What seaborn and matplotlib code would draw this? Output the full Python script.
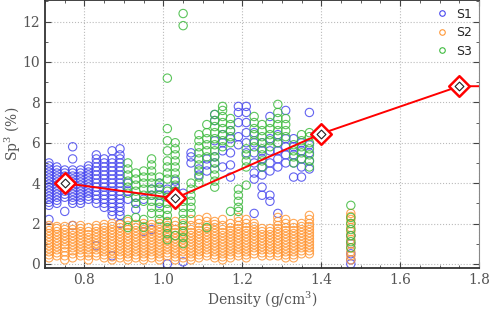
import matplotlib
matplotlib.use('Agg')
import matplotlib.pyplot as plt
import seaborn as sns
import pandas as pd
from matplotlib.lines import Line2D
from matplotlib.ticker import MultipleLocator

# column positions (density) and Sp3 values
s1_x = [0.71, 0.73, 0.75, 0.77, 0.79, 0.81, 0.83, 0.85, 0.87, 0.89,
        0.91, 0.93, 0.95, 0.97, 0.99, 1.01, 1.03, 1.05, 1.07, 1.09,
        1.11, 1.13, 1.15, 1.17, 1.19, 1.21, 1.23, 1.25, 1.27, 1.29,
        1.31, 1.33, 1.35, 1.37, 1.475]
s1_y = [
    [2.2, 2.9, 3.05, 3.2, 3.35, 3.5, 3.65, 3.8, 3.95, 4.1, 4.25, 4.4, 4.55, 4.7, 4.85, 5.0],
    [3.0, 3.15, 3.3, 3.45, 3.6, 3.75, 3.9, 4.05, 4.2, 4.35, 4.5, 4.65, 4.8],
    [2.6, 3.3, 3.45, 3.6, 3.75, 3.9, 4.05, 4.2, 4.35, 4.5, 4.65],
    [1.9, 3.0, 3.15, 3.3, 3.45, 3.6, 3.75, 3.9, 4.05, 4.2, 4.35, 4.5, 4.65, 5.2, 5.8],
    [3.0, 3.15, 3.3, 3.45, 3.6, 3.75, 3.9, 4.05, 4.2, 4.35, 4.5, 4.65],
    [3.2, 3.35, 3.5, 3.65, 3.8, 3.95, 4.1, 4.25, 4.4, 4.55, 4.7, 4.85],
    [0.9, 3.0, 3.2, 3.4, 3.6, 3.8, 4.0, 4.2, 4.4, 4.6, 4.8, 5.0, 5.2, 5.4],
    [2.8, 3.0, 3.2, 3.4, 3.6, 3.8, 4.0, 4.2, 4.4, 4.6, 4.8, 5.0, 5.2],
    [0.4, 2.4, 2.6, 2.8, 3.0, 3.2, 3.4, 3.6, 3.8, 4.0, 4.2, 4.4, 4.6, 4.8, 5.0, 5.2, 5.6],
    [2.0, 2.4, 2.6, 2.8, 3.0, 3.2, 3.4, 3.6, 3.8, 4.0, 4.2, 4.4, 4.6, 4.8, 5.0, 5.2, 5.4, 5.7],
    [3.2, 3.6, 4.0],
    [2.7, 3.0, 3.3],
    [1.6, 3.2],
    [1.7, 3.4, 3.7],
    [3.0, 3.4, 3.8, 4.0],
    [0.0, 3.4, 3.7],
    [3.6, 3.8, 4.1],
    [0.1, 3.5],
    [5.0, 5.3, 5.5],
    [4.4, 4.7],
    [4.6, 4.9, 5.2],
    [5.0, 5.3, 6.1, 7.1, 7.4],
    [4.8, 5.6, 6.0, 6.4],
    [4.3, 4.9, 5.5, 6.2, 6.6],
    [5.9, 6.3, 7.0, 7.5, 7.8],
    [5.5, 6.0, 6.5, 7.0, 7.5, 7.8],
    [2.5, 4.2, 4.5, 5.0, 5.5, 6.0, 6.5],
    [3.4, 3.8, 4.4, 4.8, 5.2, 5.6, 6.0],
    [3.1, 3.4, 4.6, 5.0, 5.6, 6.2, 7.3],
    [2.5, 4.8, 5.2, 5.6, 6.0, 6.4],
    [5.0, 5.4, 5.8, 6.2, 7.6],
    [4.3, 5.0, 5.4, 5.8, 6.2],
    [4.3, 4.8, 5.2, 5.6, 6.0],
    [4.7, 5.1, 5.5, 5.9, 7.5],
    [0.0, 0.2, 0.5, 1.0, 1.4],
]

s2_x = [0.71, 0.73, 0.75, 0.77, 0.79, 0.81, 0.83, 0.85, 0.87, 0.89,
        0.91, 0.93, 0.95, 0.97, 0.99, 1.01, 1.03, 1.05, 1.07, 1.09,
        1.11, 1.13, 1.15, 1.17, 1.19, 1.21, 1.23, 1.25, 1.27, 1.29,
        1.31, 1.33, 1.35, 1.37, 1.475]
s2_y = [
    [0.3, 0.45, 0.6, 0.75, 0.9, 1.05, 1.2, 1.35, 1.5, 1.65, 1.8, 1.9],
    [0.4, 0.55, 0.7, 0.85, 1.0, 1.15, 1.3, 1.45, 1.6, 1.75, 1.85],
    [0.2, 0.4, 0.6, 0.8, 0.95, 1.1, 1.25, 1.4, 1.55, 1.7, 1.85],
    [0.3, 0.5, 0.65, 0.8, 0.95, 1.1, 1.25, 1.4, 1.55, 1.7, 1.9],
    [0.4, 0.55, 0.7, 0.85, 1.0, 1.15, 1.3, 1.45, 1.6, 1.75, 1.9],
    [0.2, 0.4, 0.55, 0.7, 0.85, 1.0, 1.15, 1.3, 1.45, 1.6, 1.8],
    [0.4, 0.55, 0.7, 0.85, 1.0, 1.15, 1.3, 1.45, 1.6, 1.75, 1.9],
    [0.3, 0.45, 0.6, 0.75, 0.9, 1.05, 1.2, 1.35, 1.5, 1.65, 1.8, 1.95],
    [0.2, 0.35, 0.5, 0.65, 0.8, 0.95, 1.1, 1.25, 1.4, 1.55, 1.7, 1.85, 2.0],
    [0.3, 0.45, 0.6, 0.75, 0.9, 1.05, 1.2, 1.35, 1.5, 1.65, 1.8, 1.95],
    [0.2, 0.35, 0.5, 0.65, 0.8, 0.95, 1.1, 1.25, 1.4, 1.55, 1.7, 1.9, 2.1],
    [0.3, 0.45, 0.6, 0.75, 0.9, 1.05, 1.2, 1.35, 1.5, 1.65, 1.8, 1.95],
    [0.2, 0.35, 0.5, 0.65, 0.8, 0.95, 1.1, 1.25, 1.4, 1.55, 1.7, 1.85, 2.0],
    [0.3, 0.45, 0.6, 0.75, 0.9, 1.05, 1.2, 1.35, 1.5, 1.65, 1.8, 1.95],
    [0.2, 0.35, 0.5, 0.65, 0.8, 0.95, 1.1, 1.25, 1.4, 1.55, 1.7, 1.85, 2.0],
    [0.4, 0.55, 0.7, 0.85, 1.0, 1.15, 1.3, 1.45, 1.6, 1.75, 1.9, 2.05],
    [0.2, 0.35, 0.5, 0.65, 0.8, 0.95, 1.1, 1.25, 1.4, 1.55, 1.7, 1.9, 2.1],
    [0.3, 0.45, 0.6, 0.75, 0.9, 1.05, 1.2, 1.35, 1.5, 1.65, 1.8, 2.0],
    [0.2, 0.35, 0.5, 0.65, 0.8, 0.95, 1.1, 1.25, 1.4, 1.55, 1.7, 1.9, 2.2],
    [0.3, 0.45, 0.6, 0.75, 0.9, 1.05, 1.2, 1.35, 1.5, 1.65, 1.8, 2.0, 2.2],
    [0.4, 0.55, 0.7, 0.85, 1.0, 1.15, 1.3, 1.45, 1.6, 1.75, 1.9, 2.1, 2.3],
    [0.3, 0.45, 0.6, 0.75, 0.9, 1.05, 1.2, 1.35, 1.5, 1.65, 1.8, 1.95, 2.1],
    [0.2, 0.35, 0.5, 0.65, 0.8, 0.95, 1.1, 1.25, 1.4, 1.55, 1.7, 1.9, 2.2],
    [0.3, 0.45, 0.6, 0.75, 0.9, 1.05, 1.2, 1.35, 1.5, 1.65, 1.8, 2.0],
    [0.4, 0.55, 0.7, 0.85, 1.0, 1.15, 1.3, 1.45, 1.6, 1.75, 1.9, 2.1, 2.3],
    [0.3, 0.45, 0.6, 0.75, 0.9, 1.05, 1.2, 1.35, 1.5, 1.65, 1.8, 2.0, 2.2],
    [0.5, 0.65, 0.8, 0.95, 1.1, 1.25, 1.4, 1.55, 1.7, 1.85, 2.0],
    [0.4, 0.55, 0.7, 0.85, 1.0, 1.15, 1.3, 1.45, 1.6, 1.75],
    [0.4, 0.55, 0.7, 0.85, 1.0, 1.15, 1.3, 1.45, 1.6, 1.75],
    [0.4, 0.55, 0.7, 0.85, 1.0, 1.15, 1.3, 1.45, 1.6, 1.75, 1.9, 2.1, 2.3],
    [0.3, 0.45, 0.6, 0.75, 0.9, 1.05, 1.2, 1.35, 1.5, 1.65, 1.8, 2.0, 2.2],
    [0.3, 0.45, 0.6, 0.75, 0.9, 1.05, 1.2, 1.35, 1.5, 1.65, 1.8, 2.0],
    [0.5, 0.65, 0.8, 0.95, 1.1, 1.25, 1.4, 1.55, 1.7, 1.85, 2.0],
    [0.5, 0.65, 0.8, 0.95, 1.1, 1.25, 1.4, 1.55, 1.7, 1.85, 2.0, 2.2, 2.4],
    [0.2, 0.4, 0.6, 0.8, 1.0, 1.2, 1.4, 1.6, 1.8, 2.0, 2.2, 2.35, 2.5],
]

s3_x = [0.91, 0.93, 0.95, 0.97, 0.99, 1.01, 1.03, 1.05, 1.07, 1.09,
        1.11, 1.13, 1.15, 1.17, 1.19, 1.21, 1.23, 1.25, 1.27, 1.29,
        1.31, 1.33, 1.35, 1.37, 1.475]
s3_y = [
    [1.8, 2.2, 3.5, 3.8, 4.1, 4.4, 4.7, 5.0],
    [2.3, 3.0, 3.3, 3.6, 3.9, 4.2, 4.5],
    [1.8, 2.2, 3.1, 3.4, 3.7, 4.0, 4.3, 4.6],
    [2.5, 2.8, 3.1, 3.4, 3.7, 4.0, 4.3, 4.6, 4.9, 5.2],
    [2.2, 2.5, 2.8, 3.1, 3.4, 3.7, 4.0, 4.3],
    [1.2, 1.5, 1.8, 2.1, 2.4, 2.7, 3.0, 3.3, 3.6, 4.2, 4.5, 4.8, 5.1, 5.6, 6.1, 6.7, 9.2],
    [1.4, 3.3, 3.6, 3.9, 4.2, 4.5, 4.8, 5.1, 5.4, 5.7, 6.0],
    [1.0, 1.3, 1.6, 1.9, 2.2, 2.5, 2.8, 3.1, 11.8, 12.4],
    [2.5, 2.8, 3.1, 3.4, 3.7, 4.0],
    [4.0, 4.3, 4.6, 4.9, 5.2, 5.5, 5.8, 6.1, 6.4],
    [1.8, 5.3, 5.6, 5.9, 6.2, 6.5, 6.9],
    [3.8, 4.1, 4.4, 4.7, 5.0, 5.3, 5.6, 5.9, 6.2, 6.5, 6.8, 7.1, 7.4],
    [5.8, 6.1, 6.4, 6.7, 7.0, 7.3, 7.6, 7.8],
    [2.6, 6.0, 6.3, 6.6, 6.9, 7.2],
    [2.6, 2.8, 3.1, 3.4, 3.7],
    [3.9, 4.8, 5.1, 5.4, 5.7],
    [5.8, 6.1, 6.4, 6.7, 7.0, 7.3],
    [4.8, 5.1, 5.4, 5.7, 6.0, 6.3, 6.6, 6.9],
    [5.8, 6.1, 6.4, 6.7, 7.0],
    [6.0, 6.3, 6.6, 6.9, 7.2, 7.5, 7.9],
    [6.3, 6.6, 6.9, 7.2],
    [5.0, 5.3, 5.6, 5.9],
    [5.2, 5.5, 5.8, 6.1, 6.4],
    [4.8, 5.1, 5.4, 5.7, 6.0, 6.3, 6.5],
    [0.8, 1.1, 1.4, 1.7, 2.0, 2.3, 2.9],
]

fit_x = [0.75, 1.03, 1.40, 1.75, 1.90]
fit_y = [4.0, 3.25, 6.45, 8.8, 8.8]

series = [('S1', s1_x, s1_y, '#4848ee'),
          ('S2', s2_x, s2_y, '#ff9838'),
          ('S3', s3_x, s3_y, '#3fbb3f')]


def flatten(xs, ys):
    rows = [(x, v) for x, col in zip(xs, ys) for v in col]
    return pd.DataFrame(rows, columns=['density', 'sp3'])


sns.set_style('ticks')
plt.rcParams['font.family'] = ['DejaVu Serif']
plt.rcParams['mathtext.fontset'] = 'dejavuserif'

fig = plt.figure(figsize=(4.91, 3.13), dpi=100)
ax = fig.add_axes([0.0917, 0.144, 0.884, 0.856])

handles = []
for name, xs, ys, col in series:
    df = flatten(xs, ys)
    sns.scatterplot(data=df, x='density', y='sp3', ax=ax, s=36,
                    linewidth=0.8, legend=False, zorder=2)
    pts = ax.collections[-1]
    pts.set_facecolor('none')
    pts.set_edgecolor(col)
    pts.set_alpha(0.85)
    handles.append(Line2D([], [], ls='none', marker='o', ms=4, mfc='none',
                          mec=col, mew=0.8, label=name))

fit = pd.DataFrame({'density': fit_x, 'sp3': fit_y})
sns.lineplot(data=fit, x='density', y='sp3', ax=ax, color='red', lw=1.4,
             sort=False, zorder=3)
sns.scatterplot(data=fit.iloc[:4], x='density', y='sp3', ax=ax, marker='D',
                s=110, facecolor='white', edgecolor='red', linewidth=1.8,
                zorder=4, legend=False)
sns.scatterplot(data=fit.iloc[:4], x='density', y='sp3', ax=ax, marker='D',
                s=20, facecolor='white', edgecolor='#222222', linewidth=0.8,
                zorder=5, legend=False)

ax.set_xlim(0.7, 1.8)
ax.set_ylim(-0.2, 13.07)
ax.xaxis.set_minor_locator(MultipleLocator(0.05))
ax.yaxis.set_major_locator(MultipleLocator(2))
ax.yaxis.set_minor_locator(MultipleLocator(1))
ax.set_xticks([0.8, 1.0, 1.2, 1.4, 1.6, 1.8])
ax.set_xticklabels(['0.8', '1.0', '1.2', '1.4', '1.6', '1.8'])
ax.grid(True, which='major', ls=':', color='#bbbbbb', lw=0.8)
ax.set_axisbelow(True)
ax.tick_params(which='both', direction='in', top=True, right=True,
               colors='#444444', labelcolor='#555555', labelsize=10)
ax.tick_params(which='major', length=4)
ax.tick_params(which='minor', length=2)
for side in ['left', 'bottom', 'top']:
    ax.spines[side].set_color('#333333')
    ax.spines[side].set_linewidth(1.3)
ax.spines['right'].set_color('#888888')

ax.set_xlabel('Density (g/cm$^3$)', color='#555555', fontsize=10, labelpad=2)
ax.set_ylabel('Sp$^3$ (%)', color='#555555', fontsize=10, labelpad=0)

leg = ax.legend(handles=handles, loc='upper right', frameon=False,
                prop={'family': 'DejaVu Sans', 'size': 9},
                handlelength=1.0, handletextpad=0.6, labelspacing=0.45,
                borderaxespad=0.2)

fig.savefig('out.png', dpi=100)
